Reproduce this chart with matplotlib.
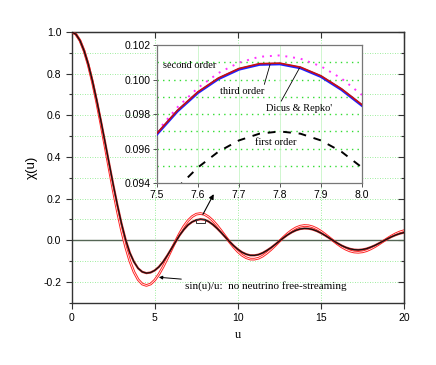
import numpy as np
import matplotlib
matplotlib.use('Agg')
import matplotlib.pyplot as plt
from matplotlib.patches import Rectangle
from matplotlib.ticker import MultipleLocator, FormatStrFormatter

plt.rcParams['axes.unicode_minus'] = False
plt.rcParams['font.family'] = 'Liberation Sans'

# sample positions (u) for the main curves, every 0.25
u = np.linspace(0, 20, 81)

# sin(u)/u, no neutrino free-streaming (red)
chi_free = [1.0, 0.9896, 0.9589, 0.9089, 0.8415, 0.7592, 0.6650, 0.5623, 0.4546,
            0.3458, 0.2394, 0.1388, 0.0470, -0.0333, -0.1002, -0.1524, -0.1892,
            -0.2106, -0.2172, -0.2104, -0.1918, -0.1636, -0.1283, -0.0884, -0.0466,
            -0.0053, 0.0331, 0.0667, 0.0939, 0.1135, 0.1251, 0.1283, 0.1237,
            0.1118, 0.0939, 0.0714, 0.0458, 0.0188, -0.0079, -0.0327, -0.0544,
            -0.0719, -0.0838, -0.0906, -0.0909, -0.0863, -0.0761, -0.0615, -0.0447,
            -0.0254, -0.0053, 0.0143, 0.0323, 0.0477, 0.0595, 0.0674, 0.0708,
            0.0697, 0.0645, 0.0555, 0.0434, 0.0290, 0.0134, -0.0027, -0.0180,
            -0.0319, -0.0431, -0.0516, -0.0566, -0.0580, -0.0559, -0.0505, -0.0417,
            -0.0311, -0.0185, -0.0053, 0.0079, 0.0203, 0.0311, 0.0397, 0.0457]

# damped solution (black)
chi_damped = [1.0, 0.9897, 0.9592, 0.9095, 0.8450, 0.7650, 0.6750, 0.5770, 0.4750,
              0.3710, 0.2680, 0.1700, 0.0800, 0.0020, -0.0600, -0.1040, -0.1350,
              -0.1520, -0.1580, -0.1550, -0.1450, -0.1280, -0.1040, -0.0740, -0.0410,
              -0.0080, 0.0240, 0.0510, 0.0730, 0.0880, 0.0968, 0.1009, 0.0986,
              0.0895, 0.0752, 0.0571, 0.0366, 0.0150, -0.0063, -0.0262, -0.0435,
              -0.0575, -0.0670, -0.0725, -0.0727, -0.0690, -0.0609, -0.0492, -0.0358,
              -0.0203, -0.0042, 0.0115, 0.0259, 0.0381, 0.0476, 0.0539, 0.0566,
              0.0558, 0.0516, 0.0444, 0.0347, 0.0232, 0.0107, -0.0021, -0.0144,
              -0.0255, -0.0345, -0.0412, -0.0452, -0.0464, -0.0447, -0.0404, -0.0334,
              -0.0249, -0.0148, -0.0042, 0.0063, 0.0162, 0.0248, 0.0317, 0.0365]

# inset: zoom near the first maximum
u_in = np.linspace(7.5, 8.0, 11)
second_order = [0.0970, 0.0984, 0.09952, 0.10038, 0.10098, 0.10132, 0.1014,
                0.10121, 0.10077, 0.10007, 0.09911]
third_order = [0.09684, 0.09817, 0.09924, 0.10004, 0.10059, 0.10087, 0.10090,
               0.10067, 0.10017, 0.09942, 0.09850]
dicus_repko = [0.09689, 0.09822, 0.09929, 0.10009, 0.10064, 0.10092, 0.10095,
               0.10072, 0.10022, 0.09947, 0.09855]
first_order = [0.09232, 0.09375, 0.09492, 0.09583, 0.09648, 0.09687, 0.0970,
               0.09687, 0.09648, 0.09583, 0.09492]

fig = plt.figure(figsize=(4.36, 3.65), dpi=100)
ax = fig.add_axes([0.1644, 0.1707, 0.762, 0.7416])

grid_green = '#7fe87f'
for y in np.arange(-0.2, 1.01, 0.1):
    ax.axhline(y, color=grid_green, lw=0.6, ls=(0, (1, 2)), zorder=0)
for x in [5, 10, 15]:
    ax.axvline(x, color=grid_green, lw=0.6, ls=(0, (1, 2)), zorder=0)
ax.axhline(0, color='#556655', lw=1.0, zorder=1)

ax.plot(u, chi_free, color='#ff2020', lw=1.9, zorder=2)
ax.plot(u, chi_free, color='white', lw=0.55, zorder=2)
ax.plot(u, chi_damped, color='#e03030', lw=1.6, zorder=3)
ax.plot(u, chi_damped, color='#111111', lw=0.9, zorder=3)

ax.add_patch(Rectangle((7.5, 0.082), 0.5, 0.02, fill=False, ec='#333333', lw=0.7, zorder=4))
ax.annotate('', xy=(8.63, 0.233), xytext=(7.82, 0.112),
            arrowprops=dict(arrowstyle='-|>', color='black', lw=0.8,
                            mutation_scale=7))
ax.annotate('sin(u)/u:  no neutrino free-streaming', xy=(5.25, -0.178),
            xytext=(6.85, -0.22), family='Liberation Serif', fontsize=8,
            va='center', ha='left',
            arrowprops=dict(arrowstyle='-|>', color='black', lw=0.7,
                            mutation_scale=5, shrinkA=1, shrinkB=0))

ax.set_xlim(0, 20)
ax.set_ylim(-0.3, 1.0)
ax.xaxis.set_major_locator(MultipleLocator(5))
ax.yaxis.set_major_locator(MultipleLocator(0.2))
ax.yaxis.set_minor_locator(MultipleLocator(0.1))
ax.yaxis.set_major_formatter(FormatStrFormatter('%.1f'))
ax.tick_params(which='both', direction='out', labelsize=7.5, width=0.8, color='#333333')
ax.tick_params(which='major', length=4)
ax.tick_params(which='minor', length=2.5)
for s in ax.spines.values():
    s.set_color('#333333')
    s.set_linewidth(1.0)

right = ax.secondary_yaxis('right')
right.yaxis.set_major_locator(MultipleLocator(0.2))
right.yaxis.set_minor_locator(MultipleLocator(0.1))
right.tick_params(which='both', direction='in', labelright=False, color='#333333', width=0.8)
right.tick_params(which='major', length=4)
right.tick_params(which='minor', length=2.5)
right.spines['right'].set_color('#333333')
top = ax.secondary_xaxis('top')
top.xaxis.set_major_locator(MultipleLocator(5))
top.tick_params(direction='in', labeltop=False, length=4, color='#333333', width=0.8)
top.spines['top'].set_color('#333333')

ax.set_xlabel('u', family='Liberation Serif', fontsize=9, labelpad=4)
ax.set_ylabel('χ(u)', fontsize=9.5, labelpad=4)

# inset
axi = fig.add_axes([0.360, 0.4978, 0.470, 0.3789])
axi.set_facecolor('white')
for y in np.arange(0.095, 0.1015, 0.001):
    axi.axhline(y, color='#33dd33', lw=1.0, ls=(0, (1, 3)), zorder=0)
for x in [7.6, 7.7, 7.8, 7.9]:
    axi.axvline(x, color='#c8f5c8', lw=0.6, zorder=0)

axi.plot(u_in, second_order, color='#ff33ff', lw=1.4, ls=(0, (1, 3)), zorder=2)
axi.plot(u_in, third_order, color='#2020ff', lw=1.9, zorder=3)
axi.plot(u_in, dicus_repko, color='#c81010', lw=1.2, zorder=4)
axi.plot(u_in, first_order, color='black', lw=1.4, ls=(0, (4, 4)), zorder=3)

serif = dict(family='Liberation Serif', fontsize=7.5)
axi.text(7.515, 0.1008, 'second order', va='center', ha='left', **serif)
axi.annotate('third order', xy=(7.776, 0.10088), xytext=(7.655, 0.0993),
             va='center', ha='left',
             arrowprops=dict(arrowstyle='-', color='black', lw=0.6,
                             relpos=(0.97, 1.0), shrinkA=0, shrinkB=0), **serif)
axi.annotate("Dicus & Repko'", xy=(7.849, 0.10072), xytext=(7.767, 0.09833),
             va='center', ha='left',
             arrowprops=dict(arrowstyle='-', color='black', lw=0.6,
                             relpos=(0.2, 1.0), shrinkA=0, shrinkB=0), **serif)
axi.text(7.739, 0.09634, 'first order', va='center', ha='left', **serif)

axi.set_xlim(7.5, 8.0)
axi.set_ylim(0.094, 0.102)
axi.xaxis.set_major_locator(MultipleLocator(0.1))
axi.yaxis.set_major_locator(MultipleLocator(0.002))
axi.yaxis.set_major_formatter(FormatStrFormatter('%.3f'))
axi.xaxis.set_major_formatter(FormatStrFormatter('%.1f'))
axi.tick_params(direction='out', length=3, width=0.7, labelsize=7.5, pad=1.5, color='#555555')
for s in axi.spines.values():
    s.set_color('#777777')
    s.set_linewidth(0.9)

fig.savefig('out.png', dpi=100)
